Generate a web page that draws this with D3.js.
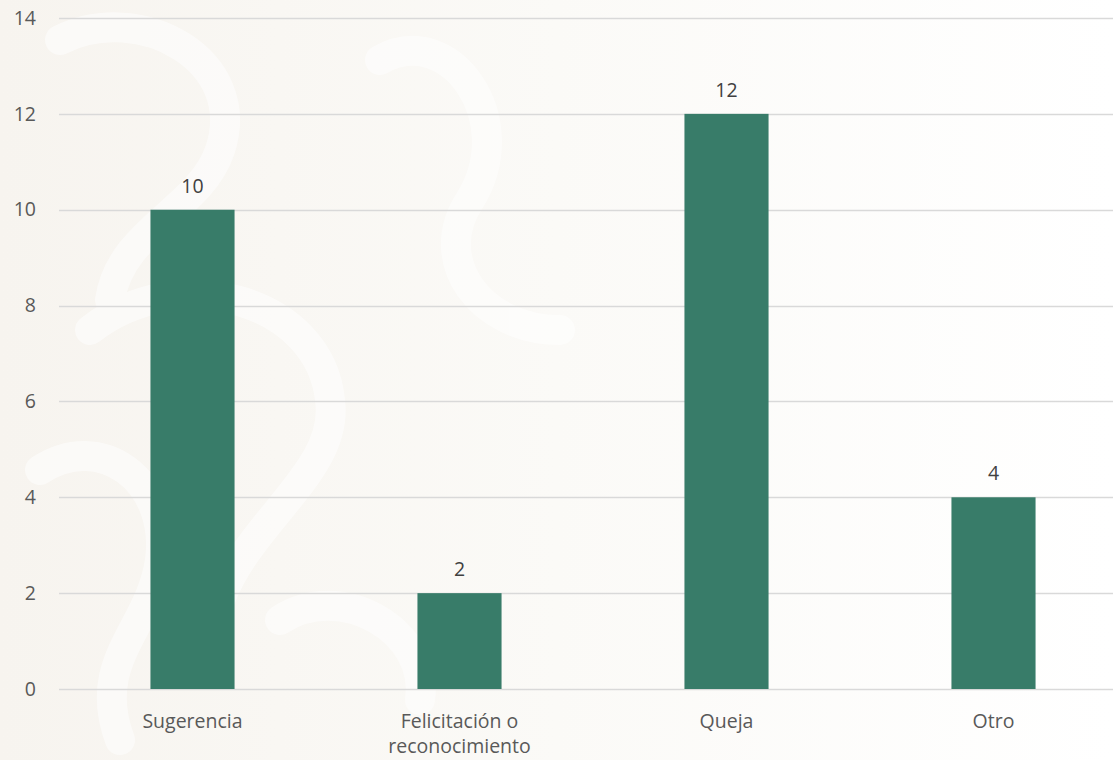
<!DOCTYPE html>
<html>
<head>
<meta charset="utf-8">
<script src="https://cdn.jsdelivr.net/npm/d3@7"></script>
<style>
  html, body { margin: 0; padding: 0; background: #ffffff; }
  svg { display: block; }
  text { font-family: "Open Sans", sans-serif; }
</style>
</head>
<body>
<svg id="chart" width="1113" height="760"></svg>
<script>
const categories = ["Sugerencia", "Felicitación o\nreconocimiento", "Queja", "Otro"];
const values = [10, 2, 12, 4];
const yTicks = [0, 2, 4, 6, 8, 10, 12, 14];

const W = 1113, H = 760;
const svg = d3.select("#chart");

// Soft beige backdrop, stronger on the left
const defs = svg.append("defs");
const grad = defs.append("linearGradient").attr("id", "bg").attr("x1", 0).attr("x2", 1).attr("y1", 0).attr("y2", 0);
grad.append("stop").attr("offset", 0).attr("stop-color", "#f7f4ef");
grad.append("stop").attr("offset", 0.5).attr("stop-color", "#fbfaf7");
grad.append("stop").attr("offset", 1).attr("stop-color", "#ffffff");
svg.append("rect").attr("width", W).attr("height", H).attr("fill", "url(#bg)");

// Faint ornamental bands over the backdrop
const orn = svg.append("g").attr("fill", "none").attr("stroke", "#ffffff").attr("stroke-linecap", "round").attr("opacity", 0.55);
[
  "M60,40 C140,0 250,60 220,150 C200,210 120,230 110,300",
  "M90,330 C180,260 320,300 330,400 C340,470 250,520 220,600",
  "M380,60 C450,20 520,120 470,200 C430,260 480,330 560,330",
  "M40,470 C100,430 170,480 160,560 C150,630 90,660 120,740",
  "M280,620 C340,580 430,630 420,700"
].forEach(d => orn.append("path").attr("d", d).attr("stroke-width", 30));

// Plot area
const plotLeft = 59, plotRight = 1127, plotTop = 18, plotBottom = 689;

const x = d3.scaleBand()
  .domain(categories)
  .range([plotLeft, plotRight])
  .paddingInner(0.685)
  .paddingOuter(0.3425);

const y = d3.scaleLinear().domain([0, 14]).range([plotBottom, plotTop]);

// Horizontal gridlines
svg.append("g")
  .selectAll("line")
  .data(yTicks)
  .join("line")
  .attr("x1", plotLeft)
  .attr("x2", W)
  .attr("y1", d => Math.round(y(d)) + 0.5)
  .attr("y2", d => Math.round(y(d)) + 0.5)
  .attr("stroke", "#d9d9d9")
  .attr("stroke-width", 1.3);

// Y axis labels
const yAxis = d3.axisLeft(y).tickValues(yTicks).tickSize(0).tickPadding(0);
const gy = svg.append("g").attr("transform", `translate(36,0)`).call(yAxis);
gy.select(".domain").remove();
gy.selectAll("text")
  .attr("font-size", 19.5)
  .attr("font-family", "'Open Sans', sans-serif")
  .attr("fill", "#595959");

// Bars
svg.append("g")
  .selectAll("rect")
  .data(values)
  .join("rect")
  .attr("x", (d, i) => x(categories[i]))
  .attr("width", x.bandwidth())
  .attr("y", d => y(d))
  .attr("height", d => y(0) - y(d))
  .attr("fill", "#387c69");

// Value labels
svg.append("g")
  .selectAll("text")
  .data(values)
  .join("text")
  .attr("x", (d, i) => x(categories[i]) + x.bandwidth() / 2)
  .attr("y", d => y(d) - 17)
  .attr("text-anchor", "middle")
  .attr("font-size", 19.5)
  .attr("fill", "#404040")
  .text(d => d);

// Category labels
const xl = svg.append("g")
  .selectAll("text")
  .data(categories)
  .join("text")
  .attr("x", d => x(d) + x.bandwidth() / 2)
  .attr("y", 728)
  .attr("text-anchor", "middle")
  .attr("font-size", 19.5)
  .attr("fill", "#595959");
xl.each(function(d) {
  const lines = d.split("\n");
  d3.select(this).selectAll("tspan")
    .data(lines)
    .join("tspan")
    .attr("x", d3.select(this).attr("x"))
    .attr("dy", (l, i) => i === 0 ? 0 : 25)
    .text(l => l);
});
</script>
</body>
</html>
